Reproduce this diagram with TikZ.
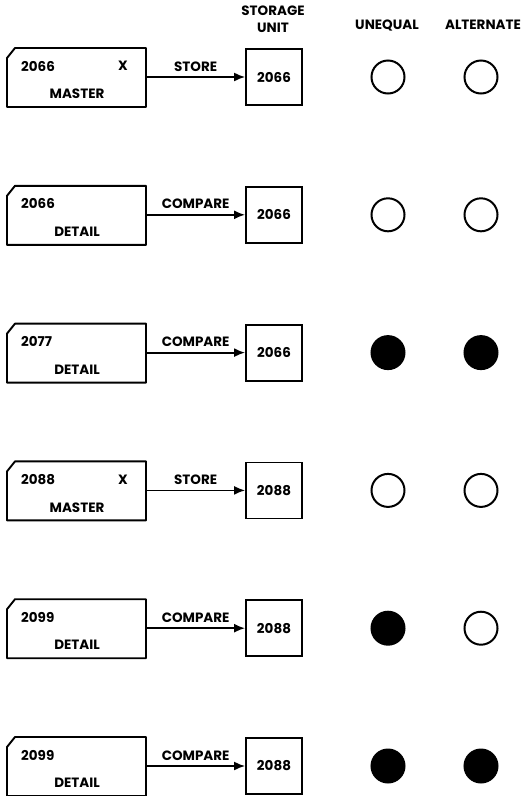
\documentclass[tikz,border=0pt]{standalone}
\usepackage{fontspec}
\setmainfont{Poppins}
\usetikzlibrary{arrows.meta}
\begin{document}
\begin{tikzpicture}[x=1pt,y=-1pt,
  lbl/.style={font=\bfseries\fontsize{13.5}{15}\selectfont, inner sep=0},
  cardline/.style={line width=1.9pt, line join=round},
  storebox/.style={draw, line width=1.8pt, minimum width=56, minimum height=56, inner sep=0, font=\bfseries\fontsize{13.5}{15}\selectfont},
  lamp/.style={circle, draw, line width=2pt, minimum size=33, inner sep=0},
  flow/.style={line width=1.8pt, -{Latex[length=11pt,width=9pt]}}]
\useasboundingbox (0,0) rectangle (525,796);
\node[lbl] (hs) at (273,11) {STORAGE};
\node[lbl] (hu) at (273,28) {UNIT};
\node[lbl] (hq) at (387,25) {UNEQUAL};
\node[lbl] (ha) at (483,25) {ALTERNATE};
\foreach \i/\num/\mk/\kind/\op/\sto/\fa/\fb in {
  0/2066/X/MASTER/STORE/2066/white/white,
  1/2066//DETAIL/COMPARE/2066/white/white,
  2/2077//DETAIL/COMPARE/2066/black/black,
  3/2088/X/MASTER/STORE/2088/white/white,
  4/2099//DETAIL/COMPARE/2088/black/white,
  5/2099//DETAIL/COMPARE/2088/black/black}{
  \pgfmathsetmacro\yy{77+137.8*\i}
  \draw[cardline] (7,\yy-19) -- (15,\yy-29) -- (146,\yy-29) -- (146,\yy+30) -- (7,\yy+30) -- cycle;
  \node[inner sep=0, minimum width=139, minimum height=59] (card\i) at (76.5,\yy) {};
  \node[lbl, anchor=west] (num\i) at (21,\yy-11) {\num};
  \node[lbl] (mk\i) at (123,\yy-11) {\mk};
  \node[lbl] (kind\i) at (77,\yy+17) {\kind};
  \node[storebox] (box\i) at (274,\yy) {\sto};
  \draw[flow] (card\i.east) -- (box\i.west) node[lbl, midway, above=5pt] (op\i) {\op};
  \node[lamp, fill=\fa] (u\i) at (388,\yy) {};
  \node[lamp, fill=\fb] (a\i) at (481,\yy) {};
}
\end{tikzpicture}
\end{document}
